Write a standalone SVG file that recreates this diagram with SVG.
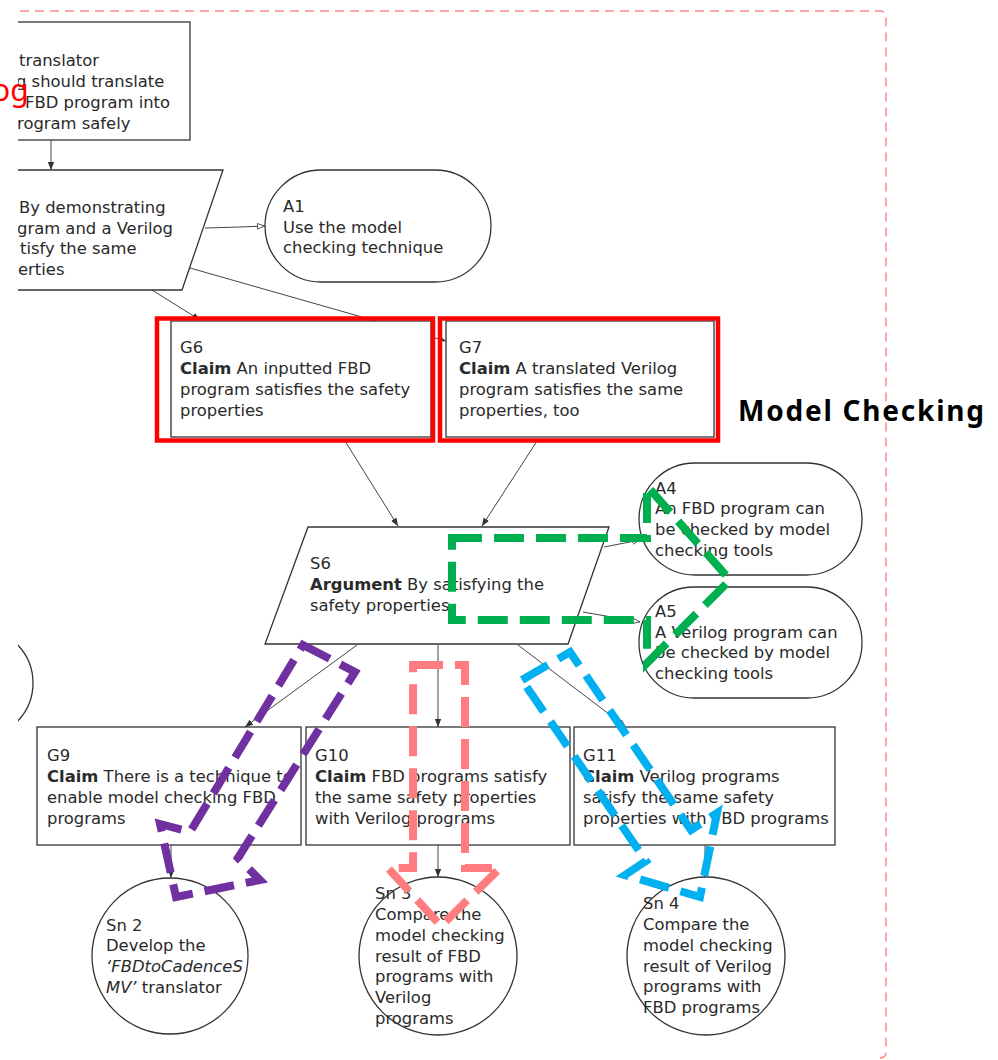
<svg xmlns="http://www.w3.org/2000/svg" width="998" height="1060" viewBox="0 0 998 1060">
  <style>
    .box { fill: #fff; stroke: #333; stroke-width: 1.3; }
    .t { font-family: "DejaVu Sans", "Liberation Sans", sans-serif; font-size: 16.4px; fill: #2a2a2a; }
    .b { font-weight: bold; }
    .i { font-style: italic; }
    .conn { fill: none; stroke: #444; stroke-width: 1; }
    .hl { fill: none; stroke: #ff0000; stroke-width: 4.5; }
    .band { fill: none; stroke-width: 8; stroke-dasharray: 30 12; stroke-linejoin: miter; stroke-miterlimit: 10; }
  </style>
  <defs>
    <clipPath id="view"><rect x="18" y="0" width="980" height="1060"/></clipPath>
    <marker id="arr" viewBox="0 0 10 10" refX="10" refY="5" markerWidth="8" markerHeight="8" markerUnits="userSpaceOnUse" orient="auto">
      <path d="M0,1 L10,5 L0,9 z" fill="#333"/>
    </marker>
    <marker id="harr" viewBox="0 0 10 10" refX="10" refY="5" markerWidth="8" markerHeight="8" markerUnits="userSpaceOnUse" orient="auto">
      <path d="M0.5,1.5 L9.5,5 L0.5,8.5 z" fill="#fff" stroke="#333" stroke-width="1"/>
    </marker>
  </defs>

  <rect width="998" height="1060" fill="#fff"/>

  <!-- module boundary -->
  <path d="M20,11 H880 Q886,11 886,17 V1052 Q886,1058 880,1058" fill="none" stroke="#ff8a8a" stroke-width="1.5" stroke-dasharray="9 6"/>

  <g clip-path="url(#view)">
    <!-- connectors -->
    <g id="connectors">
      <line class="conn" x1="51" y1="140" x2="51" y2="170" marker-end="url(#arr)"/>
      <polyline class="conn" points="205,228 240,227 265,226" marker-end="url(#harr)"/>
      <line class="conn" x1="152" y1="290" x2="200" y2="320" marker-end="url(#arr)"/>
      <line class="conn" x1="190" y1="268" x2="446" y2="341" marker-end="url(#arr)"/>
      <line class="conn" x1="345" y1="441" x2="398" y2="526" marker-end="url(#arr)"/>
      <line class="conn" x1="537" y1="441" x2="482" y2="526" marker-end="url(#arr)"/>
      <line class="conn" x1="604" y1="547" x2="640" y2="540" marker-end="url(#harr)"/>
      <line class="conn" x1="583" y1="612" x2="640" y2="622" marker-end="url(#harr)"/>
      <line class="conn" x1="357" y1="645" x2="245" y2="727" marker-end="url(#arr)"/>
      <line class="conn" x1="438" y1="645" x2="438" y2="727" marker-end="url(#arr)"/>
      <line class="conn" x1="518" y1="645" x2="626" y2="727" marker-end="url(#arr)"/>
      <line class="conn" x1="171" y1="845" x2="171" y2="878" marker-end="url(#arr)"/>
      <line class="conn" x1="438" y1="845" x2="438" y2="877" marker-end="url(#arr)"/>
      <line class="conn" x1="705" y1="845" x2="705" y2="877" marker-end="url(#arr)"/>
    </g>

    <!-- top goal -->
    <g id="G-top">
      <rect class="box" x="-100" y="22" width="290" height="118"/>
      <text class="t" x="19" y="66">translator</text>
      <text class="t" x="16" y="87">g should translate</text>
      <text class="t" x="25" y="108">FBD program into</text>
      <text class="t" x="17" y="129">rogram safely</text>
    </g>

    <!-- top strategy -->
    <g id="S-top">
      <polygon class="box" points="-100,170 223,170 182,290 -140,290"/>
      <text class="t" x="19" y="213">By demonstrating</text>
      <text class="t" x="17" y="234">gram and a Verilog</text>
      <text class="t" x="20" y="254">tisfy the same</text>
      <text class="t" x="18" y="275">erties</text>
    </g>

    <!-- partly visible node at the left edge -->
    <g id="left-node">
      <circle class="box" cx="-22" cy="683" r="55"/>
    </g>
  </g>

  <g id="A1">
    <rect class="box" x="265" y="170" width="226" height="112" rx="56" ry="56"/>
    <text class="t" x="283" y="212">A1</text>
    <text class="t" x="283" y="233">Use the model</text>
    <text class="t" x="283" y="253">checking technique</text>
  </g>

  <g id="G6">
    <rect class="box" x="171" y="321" width="260" height="116"/>
    <text class="t" x="180" y="353">G6</text>
    <text class="t" x="180" y="374"><tspan class="b">Claim</tspan> An inputted FBD</text>
    <text class="t" x="180" y="395">program satisfies the safety</text>
    <text class="t" x="180" y="416">properties</text>
    <rect class="hl" x="157" y="318.5" width="276" height="122"/>
  </g>

  <g id="G7">
    <rect class="box" x="446" y="321" width="268" height="116"/>
    <text class="t" x="459" y="353">G7</text>
    <text class="t" x="459" y="374"><tspan class="b">Claim</tspan> A translated Verilog</text>
    <text class="t" x="459" y="395">program satisfies the same</text>
    <text class="t" x="459" y="416">properties, too</text>
    <rect class="hl" x="440" y="318.5" width="278" height="122"/>
  </g>

  <g id="S6">
    <polygon class="box" points="308,527 609,527 568,644 265,644"/>
    <text class="t" x="310" y="569">S6</text>
    <text class="t" x="310" y="590"><tspan class="b">Argument</tspan> By satisfying the</text>
    <text class="t" x="310" y="611">safety properties</text>
  </g>

  <g id="A4">
    <rect class="box" x="639" y="463" width="223" height="112" rx="56" ry="56"/>
    <text class="t" x="655" y="494">A4</text>
    <text class="t" x="655" y="514">An FBD program can</text>
    <text class="t" x="655" y="535">be checked by model</text>
    <text class="t" x="655" y="556">checking tools</text>
  </g>

  <g id="A5">
    <rect class="box" x="639" y="587" width="223" height="111" rx="55" ry="55"/>
    <text class="t" x="655" y="617">A5</text>
    <text class="t" x="655" y="638">A Verilog program can</text>
    <text class="t" x="655" y="658">be checked by model</text>
    <text class="t" x="655" y="679">checking tools</text>
  </g>

  <g id="G9">
    <rect class="box" x="37" y="727" width="264" height="118"/>
    <text class="t" x="47" y="761">G9</text>
    <text class="t" x="47" y="782"><tspan class="b">Claim</tspan> There is a technique to</text>
    <text class="t" x="47" y="803">enable model checking FBD</text>
    <text class="t" x="47" y="824">programs</text>
  </g>

  <g id="G10">
    <rect class="box" x="306" y="727" width="264" height="118"/>
    <text class="t" x="315" y="761">G10</text>
    <text class="t" x="315" y="782"><tspan class="b">Claim</tspan> FBD programs satisfy</text>
    <text class="t" x="315" y="803">the same safety properties</text>
    <text class="t" x="315" y="824">with Verilog programs</text>
  </g>

  <g id="G11">
    <rect class="box" x="574" y="727" width="261" height="118"/>
    <text class="t" x="583" y="761">G11</text>
    <text class="t" x="583" y="782"><tspan class="b">Claim</tspan> Verilog programs</text>
    <text class="t" x="583" y="803">satisfy the same safety</text>
    <text class="t" x="583" y="824">properties with FBD programs</text>
  </g>

  <g id="Sn2">
    <circle class="box" cx="170" cy="956" r="78"/>
    <text class="t" x="106" y="931">Sn 2</text>
    <text class="t" x="106" y="951">Develop the</text>
    <text class="t i" x="106" y="972">‘FBDtoCadenceS</text>
    <text class="t" x="106" y="993"><tspan class="i">MV’</tspan> translator</text>
  </g>

  <g id="Sn3">
    <circle class="box" cx="438" cy="956" r="79"/>
    <text class="t" x="375" y="899">Sn 3</text>
    <text class="t" x="375" y="920">Compare the</text>
    <text class="t" x="375" y="941">model checking</text>
    <text class="t" x="375" y="962">result of FBD</text>
    <text class="t" x="375" y="982">programs with</text>
    <text class="t" x="375" y="1003">Verilog</text>
    <text class="t" x="375" y="1024">programs</text>
  </g>

  <g id="Sn4">
    <circle class="box" cx="706" cy="956" r="79"/>
    <text class="t" x="643" y="909">Sn 4</text>
    <text class="t" x="643" y="930">Compare the</text>
    <text class="t" x="643" y="951">model checking</text>
    <text class="t" x="643" y="972">result of Verilog</text>
    <text class="t" x="643" y="992">programs with</text>
    <text class="t" x="643" y="1013">FBD programs</text>
  </g>

  <!-- dashed band arrows -->
  <g id="bands">
    <polygon class="band" stroke="#00b050" points="452,538 647,538 647,486 730,580 647,663 647,620 452,620"/>
    <polygon class="band" stroke="#7030a0" points="303,645 355,672 238,858 260,880 176,897 160,824 190,832"/>
    <polygon class="band" stroke="#ff7c80" points="413,665 465,665 465,868 500,868 441,926 388,868 413,868"/>
    <polygon class="band" stroke="#00b0f0" points="522,680 570,652 691,830 717,813 700,897 625,875 646,861"/>
  </g>

  <text x="738" y="421" textLength="246" style="font-family: 'Noto Sans', 'Liberation Sans', sans-serif; font-size: 28px; font-weight: bold; fill: #000;">Model Checking</text>
  <text x="-8" y="101" style="font-family: 'Noto Sans', 'Liberation Sans', sans-serif; font-size: 30px; fill: #ff0000;">og</text>
</svg>
